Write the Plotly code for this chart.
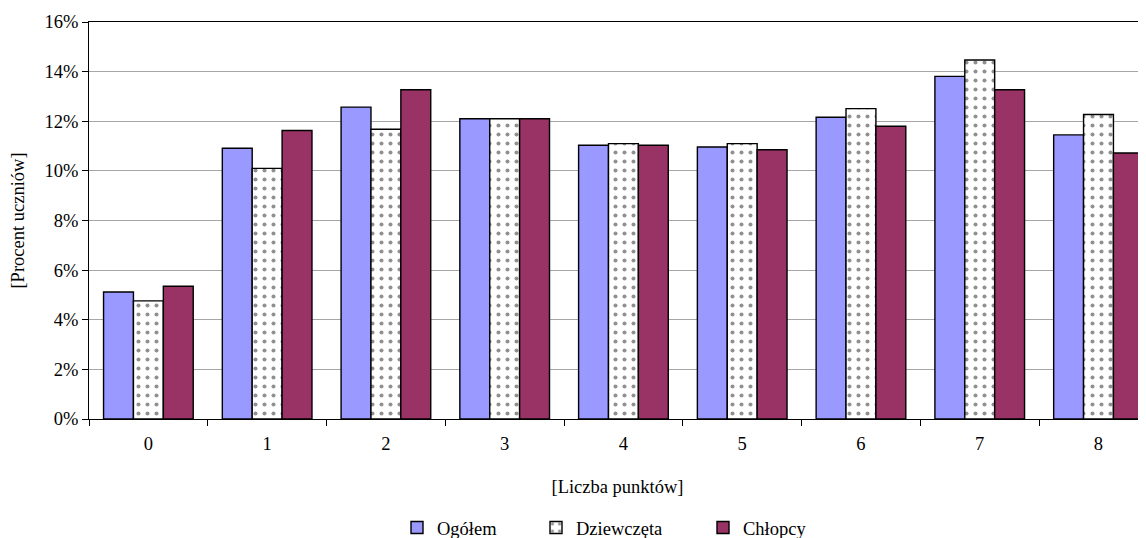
import plotly.graph_objects as go

categories = ["0", "1", "2", "3", "4", "5", "6", "7", "8"]
ogolem = [5.12, 10.91, 12.57, 12.10, 11.03, 10.96, 12.16, 13.81, 11.45]
dziewczeta = [4.76, 10.10, 11.68, 12.10, 11.10, 11.10, 12.51, 14.47, 12.27]
chlopcy = [5.35, 11.63, 13.27, 12.10, 11.03, 10.85, 11.80, 13.27, 10.72]
y_ticks = [0, 2, 4, 6, 8, 10, 12, 14, 16]
y_tick_labels = ["0%", "2%", "4%", "6%", "8%", "10%", "12%", "14%", "16%"]

FONT = "Times New Roman, Liberation Serif, serif"
FS = 18.5
W, H = 1138, 530

fig = go.Figure()
fig.add_trace(go.Bar(
    x=categories, y=ogolem, name="Ogółem", legend="legend",
    marker=dict(color="#9999FF", line=dict(color="#000000", width=1.4)),
))
fig.add_trace(go.Bar(
    x=categories, y=dziewczeta, name="Dziewczęta", legend="legend2",
    marker=dict(color="#FFFFFF", line=dict(color="#000000", width=1.4),
                pattern=dict(shape=".", fgcolor="#222222", bgcolor="#FFFFFF",
                             size=9, solidity=0.16)),
))
fig.add_trace(go.Bar(
    x=categories, y=chlopcy, name="Chłopcy", legend="legend3",
    marker=dict(color="#993366", line=dict(color="#000000", width=1.4)),
))

def leg(xpx):
    return dict(orientation="h", xref="container", yref="container",
                x=xpx / W, xanchor="left", y=10 / H, yanchor="middle",
                font=dict(family=FONT, size=FS, color="#000000"), itemwidth=30,
                bgcolor="rgba(0,0,0,0)")

fig.update_layout(
    width=W, height=H,
    margin=dict(l=81, r=0, t=14, b=119, autoexpand=False),
    paper_bgcolor="white", plot_bgcolor="white",
    font=dict(family=FONT, size=FS, color="#000000"),
    barmode="group", bargap=0.245, bargroupgap=0,
    showlegend=True,
    legend=leg(389), legend2=leg(528), legend3=leg(695),
)
fig.update_xaxes(
    type="category", range=[-0.5, 8.40], automargin=False,
    showline=True, linecolor="#000000", linewidth=1, mirror=True,
    ticks="outside", tickson="boundaries", ticklen=6, tickcolor="#000000",
    ticklabelstandoff=8,
    showgrid=False, tickfont=dict(family=FONT, size=FS),
    title=dict(text="[Liczba punktów]", font=dict(family=FONT, size=FS), standoff=26),
)
fig.update_yaxes(
    range=[0, 16], tickvals=y_ticks, ticktext=y_tick_labels, automargin=False,
    showline=True, linecolor="#000000", linewidth=1,
    ticks="outside", ticklen=6, tickcolor="#000000",
    showgrid=True, gridcolor="#A6A6A6", gridwidth=1,
    zeroline=False, tickfont=dict(family=FONT, size=FS),
    title=dict(text="[Procent uczniów]", font=dict(family=FONT, size=FS), standoff=14),
)

fig.write_html("out.html")
